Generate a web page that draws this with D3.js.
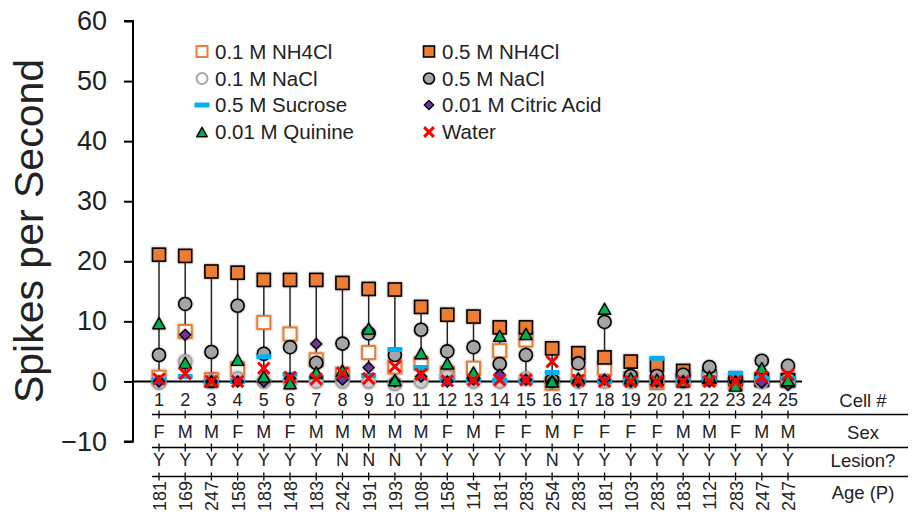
<!DOCTYPE html>
<html><head><meta charset="utf-8">
<script src="https://cdn.jsdelivr.net/npm/d3@7"></script>
<style>
body{margin:0;background:#fff;}
svg{display:block;font-family:"Liberation Sans",Arial,sans-serif;}
</style></head>
<body><svg id="c" width="921" height="516"></svg>
<script>
const cells = [1,2,3,4,5,6,7,8,9,10,11,12,13,14,15,16,17,18,19,20,21,22,23,24,25];
const sex = ["F","M","M","F","M","F","M","M","M","M","M","F","M","F","F","M","F","F","F","F","M","M","F","M","M"];
const lesion = ["Y","Y","Y","Y","Y","Y","Y","N","N","N","Y","Y","Y","Y","Y","N","Y","Y","Y","Y","Y","Y","Y","Y","Y"];
const age = ["181","169","247","158","183","148","183","242","191","193","108","158","114","181","283","254","283","181","103","283","183","112","283","247","247"];

const nh4_01 = [0.7,8.3,0.3,2.1,9.8,7.9,3.6,1.2,4.8,2.4,3.0,1.35,2.2,5.1,6.9,-0.3,1.1,2.2,0.5,-0.2,0.3,0.5,-0.3,0.2,0.2];
const nh4_05 = [21.1,20.9,18.3,18.1,16.9,16.9,16.9,16.4,15.4,15.3,12.4,11.1,10.8,9.0,9.0,5.5,4.7,4.0,3.3,2.75,1.75,0.8,0.5,0.3,0.2];
const nacl_01 = [-0.2,3.3,0,0.5,0,0,0,0,0,-0.4,0,0.8,0,0,0.5,0,0,0,0,0,0,1.2,0,0,0];
const nacl_05 = [4.4,12.9,4.9,12.6,4.6,5.7,3.1,6.3,8.0,4.4,8.6,5.0,5.7,2.9,4.4,0.2,3.0,9.9,0.9,0.9,1.1,2.4,0.3,3.45,2.6];
const sucrose = [0.2,0.8,0,0,4.1,1.2,0.7,0.6,1.0,5.3,2.3,0.3,0.3,0.2,0,1.5,0,0,0.3,3.85,0.3,0.3,1.35,0.5,0.5];
const citric = [0,7.75,0,0,0,0.5,6.25,0.3,2.3,0,0.8,0,0.3,1.1,0.3,0,0,0.3,0,0,0,0,0,-0.2,-0.6];
const quinine = [9.7,3.1,0,3.6,0.85,-0.3,1.5,1.8,8.8,0.2,4.7,3.0,1.5,7.6,7.9,0,0.5,12.1,0.5,0.3,0,0.8,-0.7,2.2,0.2];
const water = [0.4,1.3,0,0,2.2,0.7,0.4,1.4,0.5,2.5,1.2,0.1,0.25,0.25,0.25,3.3,0.2,0,0,0,0,0,0,0.8,1.1];

const yTicks = [-10,0,10,20,30,40,50,60];
const rowLabels = ["Cell #","Sex","Lesion?","Age (P)"];

const series = [
  {name:"0.1 M NH4Cl", values:nh4_01, shape:"square", fill:"#fff", stroke:"#ED7D31", sw:2},
  {name:"0.5 M NH4Cl", values:nh4_05, shape:"square", fill:"#ED7D31", stroke:"#000", sw:1.6},
  {name:"0.1 M NaCl", values:nacl_01, shape:"circle", fill:"#D0D0D0", stroke:"#A6A6A6", sw:2},
  {name:"0.5 M NaCl", values:nacl_05, shape:"circle", fill:"#A5A5A5", stroke:"#000", sw:1.6},
  {name:"0.5 M Sucrose", values:sucrose, shape:"dash", fill:"#00B0F0", stroke:"none", sw:0},
  {name:"0.01 M Citric Acid", values:citric, shape:"diamond", fill:"#7030A0", stroke:"#000", sw:1.4},
  {name:"0.01 M Quinine", values:quinine, shape:"triangle", fill:"#00B050", stroke:"#000", sw:1.4},
  {name:"Water", values:water, shape:"x", fill:"none", stroke:"#FF0000", sw:3}
];

const svg = d3.select("#c");
const defs = svg.append("defs");
const flt = defs.append("filter").attr("id", "sh").attr("x", "-50%").attr("y", "-50%").attr("width", "200%").attr("height", "200%");
flt.append("feDropShadow").attr("dx", 0).attr("dy", 0).attr("stdDeviation", 0.9).attr("flood-color", "#000").attr("flood-opacity", 0.45);

const x = d3.scalePoint().domain(cells).range([159, 788]);
const y = d3.scaleLinear().domain([-10, 60]).range([441.5, 21]);
const txt = "#222";

function drawMarker(g, s, cx, cy, k, legend) {
  const sz = k;
  if (s.shape === "square") {
    g.append("rect").attr("x", cx - sz/2).attr("y", cy - sz/2).attr("width", sz).attr("height", sz)
      .attr("fill", s.fill).attr("stroke", s.stroke).attr("stroke-width", s.sw);
  } else if (s.shape === "circle") {
    g.append("circle").attr("cx", cx).attr("cy", cy).attr("r", sz/2)
      .attr("fill", legend && s.stroke !== "#000" ? "#fff" : s.fill).attr("stroke", s.stroke).attr("stroke-width", s.sw);
  } else if (s.shape === "dash") {
    g.append("rect").attr("x", cx - sz*0.58).attr("y", cy - 2.5).attr("width", sz*1.16).attr("height", 5)
      .attr("rx", 1).attr("fill", s.fill);
  } else if (s.shape === "diamond") {
    const r = sz*0.42;
    g.append("path").attr("d", `M${cx},${cy-r}L${cx+r},${cy}L${cx},${cy+r}L${cx-r},${cy}Z`)
      .attr("fill", s.fill).attr("stroke", s.stroke).attr("stroke-width", s.sw);
  } else if (s.shape === "triangle") {
    const w = sz*0.95, h = sz*0.85;
    g.append("path").attr("d", `M${cx},${cy-h/2}L${cx+w/2},${cy+h/2}L${cx-w/2},${cy+h/2}Z`)
      .attr("fill", s.fill).attr("stroke", s.stroke).attr("stroke-width", s.sw).attr("stroke-linejoin","round");
  } else if (s.shape === "x") {
    const r = sz*0.44;
    g.append("path").attr("d", `M${cx-r},${cy-r}L${cx+r},${cy+r}M${cx+r},${cy-r}L${cx-r},${cy+r}`)
      .attr("stroke", s.stroke).attr("stroke-width", s.sw).attr("fill","none");
  }
}

// y axis
const yAxis = d3.axisLeft(y).tickValues(yTicks).tickSize(9).tickPadding(17).tickFormat(d3.format("d"));
const ga = svg.append("g").attr("transform", "translate(133,0)").call(yAxis);
ga.select(".domain").attr("stroke", "#000").attr("stroke-width", 2).attr("d", `M-9,${y(60)}H0V${y(-10)}H-9`);
ga.selectAll(".tick line").attr("stroke", "#000").attr("stroke-width", 2);
ga.selectAll(".tick text").attr("fill", txt).style("font-size", "27px").style("font-family", '"Liberation Sans",Arial,sans-serif');

// y title
svg.append("text").attr("transform", `translate(43,231) rotate(-90)`).attr("text-anchor", "middle")
  .style("font-size", "41px").attr("fill", txt).text("Spikes per Second");

// zero line
svg.append("line").attr("x1", 133).attr("x2", 802).attr("y1", y(0)).attr("y2", y(0))
  .attr("stroke", "#000").attr("stroke-width", 2);

// high-low stems
const stems = cells.map((c, i) => {
  const vals = series.map(s => s.values[i]);
  return {c, hi: d3.max(vals), lo: d3.min(vals)};
});
svg.append("g").selectAll("line").data(stems).join("line")
  .attr("x1", d => x(d.c)).attr("x2", d => x(d.c)).attr("y1", d => y(d.hi)).attr("y2", d => y(d.lo))
  .attr("stroke", "#222").attr("stroke-width", 1.5);

// markers
series.forEach(s => {
  const g = svg.append("g").attr("filter", s.shape === "x" || s.shape === "dash" ? null : "url(#sh)");
  cells.forEach((c, i) => drawMarker(g, s, x(c), y(s.values[i]), 13, false));
});

// legend
const legX = [202, 429], legTX = [215, 442], legY = [51.5, 78.5, 105, 132];
series.forEach((s, i) => {
  const col = i % 2, row = Math.floor(i / 2);
  const g = svg.append("g");
  drawMarker(g, s, legX[col], legY[row], s.shape === "dash" ? 13 : 11, true);
  g.append("text").attr("x", legTX[col]).attr("y", legY[row]).attr("dy", "0.36em")
    .style("font-size", "20.5px").attr("fill", txt).text(s.name);
});

// table
const rowY = [400, 432, 460];
const lineY = [414.5, 447.5, 476.5];
lineY.forEach(ly => {
  svg.append("line").attr("x1", 152).attr("x2", 908).attr("y1", ly).attr("y2", ly).attr("stroke", "#000").attr("stroke-width", 1.3);
  svg.append("g").selectAll("line").data(cells).join("line")
    .attr("x1", d => x(d)).attr("x2", d => x(d)).attr("y1", ly - 4).attr("y2", ly + 4)
    .attr("stroke", "#000").attr("stroke-width", 1.3);
});
const tf = "18px";
svg.append("g").selectAll("text").data(cells).join("text")
  .attr("x", d => x(d)).attr("y", rowY[0]).attr("dy", "0.36em").attr("text-anchor", "middle")
  .style("font-size", tf).attr("fill", txt).text(d => d);
svg.append("g").selectAll("text").data(cells).join("text")
  .attr("x", d => x(d)).attr("y", rowY[1]).attr("dy", "0.36em").attr("text-anchor", "middle")
  .style("font-size", tf).attr("fill", txt).text((d, i) => sex[i]);
svg.append("g").selectAll("text").data(cells).join("text")
  .attr("x", d => x(d)).attr("y", rowY[2]).attr("dy", "0.36em").attr("text-anchor", "middle")
  .style("font-size", tf).attr("fill", txt).text((d, i) => lesion[i]);
svg.append("g").selectAll("text").data(cells).join("text")
  .attr("transform", d => `translate(${x(d) + 0.5},481) rotate(-90)`).attr("dy", "0.36em").attr("text-anchor", "end")
  .style("font-size", tf).attr("fill", txt).text((d, i) => age[i]);
const rlY = [400, 432, 460, 492];
rowLabels.forEach((t, i) => {
  svg.append("text").attr("x", 863).attr("y", rlY[i]).attr("dy", "0.36em").attr("text-anchor", "middle")
    .style("font-size", "18.5px").attr("fill", txt).text(t);
});
</script></body></html>
